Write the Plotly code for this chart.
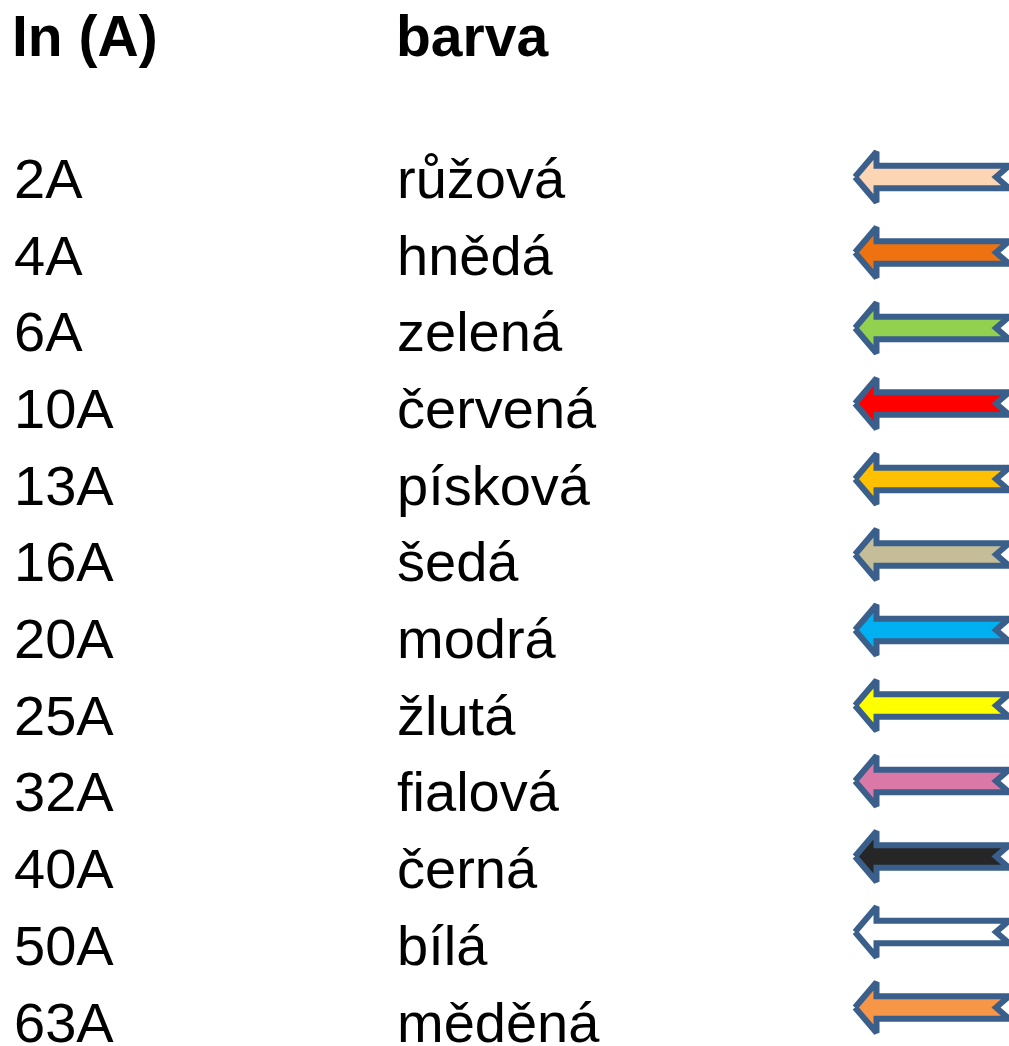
import plotly.graph_objects as go

# ---- data ----
header_current = "In (A)"
header_colour = "barva"
currents = ["2A", "4A", "6A", "10A", "13A", "16A", "20A", "25A", "32A", "40A", "50A", "63A"]
colour_names = ["růžová", "hnědá", "zelená", "červená", "písková", "šedá",
                "modrá", "žlutá", "fialová", "černá", "bílá", "měděná"]
fill_colours = ["#FCD5B5", "#EE7210", "#92D050", "#FF0000", "#FFC000", "#C4BD97",
                "#00B0F0", "#FFFF00", "#DA78A8", "#262626", "#FFFFFF", "#F79646"]

# ---- layout constants (pixel-like coordinate system) ----
W, H = 1009, 1046
FONT = "Liberation Sans, Arial, sans-serif"
TEXT_TOP = 178.3      # cap centre of first row
TEXT_STEP = 76.7
ARROW_TOP = 177.0     # centre of first arrow
ARROW_STEP = 75.5
OUTLINE = "#3A5F8B"

# arrow outline relative to its centre (dx, dy)
tip_x, head_back, tail_x, notch_x = 855.0, 876.5, 1009.0, 996.0
head_h, shaft_h = 25.3, 11.3
arrow_dx = [tip_x, head_back, head_back, tail_x, notch_x, tail_x, head_back, head_back, tip_x]
arrow_dy = [0, -head_h, -shaft_h, -shaft_h, 0, shaft_h, shaft_h, head_h, 0]

fig = go.Figure()

for i, col in enumerate(fill_colours):
    cy = ARROW_TOP + i * ARROW_STEP
    fig.add_trace(go.Scatter(
        x=arrow_dx, y=[cy + d for d in arrow_dy],
        mode="lines", fill="toself", fillcolor=col,
        line=dict(color=OUTLINE, width=6),
        hoverinfo="skip", showlegend=False,
    ))

annotations = [
    dict(x=10, y=35.5, text="<b>%s</b>" % header_current, font=dict(size=57)),
    dict(x=394, y=35.5, text="<b>%s</b>" % header_colour, font=dict(size=57)),
]
for i, (c, n) in enumerate(zip(currents, colour_names)):
    y = TEXT_TOP + i * TEXT_STEP
    annotations.append(dict(x=12, y=y, text=c, font=dict(size=56)))
    annotations.append(dict(x=395, y=y, text=n, font=dict(size=56)))

for a in annotations:
    a.update(xref="x", yref="y", xanchor="left", yanchor="middle", showarrow=False)
    a["font"].update(family=FONT, color="#000000")

fig.update_layout(
    width=W, height=H,
    margin=dict(l=0, r=0, t=0, b=0),
    paper_bgcolor="white", plot_bgcolor="white",
    xaxis=dict(range=[0, W], visible=False, fixedrange=True),
    yaxis=dict(range=[H, 0], visible=False, fixedrange=True),
    annotations=annotations,
)

fig.write_html(
    "out.html",
    config=dict(displayModeBar=False),
    post_script="document.body.style.margin='0';document.body.style.overflow='hidden';",
)
